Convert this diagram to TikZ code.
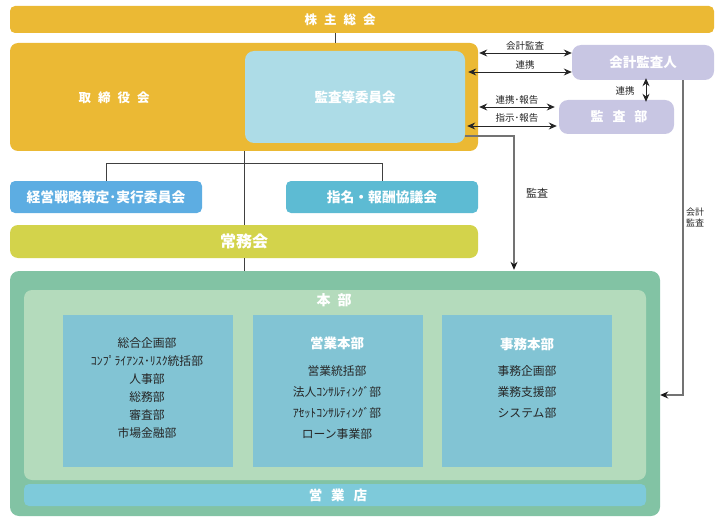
\documentclass[tikz,border=0pt]{standalone}
\usepackage{fontspec}
\setmainfont{Noto Sans CJK JP}
\usetikzlibrary{arrows.meta,calc}
\definecolor{cgold}{HTML}{EBB934}
\definecolor{ckansa}{HTML}{ADDCE7}
\definecolor{clav}{HTML}{C8C6E3}
\definecolor{ckeiei}{HTML}{5DADE2}
\definecolor{cshimei}{HTML}{5DBBD3}
\definecolor{cjomu}{HTML}{D3D34B}
\definecolor{couter}{HTML}{82C3A4}
\definecolor{cinner}{HTML}{B4DBBC}
\definecolor{cdept}{HTML}{82C4D4}
\definecolor{cbranch}{HTML}{7ECADA}
\newcommand{\gapA}{\hspace{7pt}}
\newcommand{\gapB}{\hspace{9pt}}
\begin{document}
\begin{tikzpicture}[x=1pt,y=-1pt,
  box/.style={rounded corners=7pt, draw=none, inner sep=0pt, text=white, font=\bfseries\fontsize{13.5}{14}\selectfont},
  deptbox/.style={draw=none, inner sep=0pt, fill=cdept, minimum width=170, minimum height=152},
  wtitle/.style={inner sep=0pt, text=white, font=\bfseries\fontsize{13.5}{14}\selectfont},
  lbl/.style={font=\fontsize{9.5}{11}\selectfont, text=black!85, inner sep=0pt},
  dtext/.style={font=\fontsize{11.8}{12}\selectfont, text=black!85, inner sep=0pt},
  conn/.style={draw=black!55, line width=1.2pt},
  tree/.style={draw=black!75, line width=0.8pt},
  tip/.style={-{Stealth[length=8pt,width=7pt,color=black!90]}},
  dbl/.style={{Stealth[length=8pt,width=7pt]}-{Stealth[length=8pt,width=7pt]}, line width=0.9pt, draw=black!85},
]
\useasboundingbox (0,0) rectangle (720,524);

% top boxes
\node[box, fill=cgold, minimum width=704, minimum height=27, rounded corners=5pt] (agm) at (362,19.5) {};
\node[inner sep=0pt, text=white, font=\bfseries\fontsize{12.5}{13}\selectfont] (agmlbl) at (340,19.5) {株\gapA 主\gapA 総\gapA 会};
\node[box, fill=cgold, minimum width=468, minimum height=108, rounded corners=8pt] (board) at (244,97) {};
\node[inner sep=0pt, text=white, font=\bfseries\fontsize{12.5}{13}\selectfont] (boardlbl) at (114,98) {取\gapA 締\gapA 役\gapA 会};
\node[box, fill=ckansa, minimum width=220, minimum height=92, rounded corners=9pt] (kansatou) at (355,97) {監査等委員会};
\node[box, fill=clav, minimum width=142, minimum height=35, rounded corners=9pt] (kaikei) at (643,62.5) {会計監査人};
\node[box, fill=clav, minimum width=115, minimum height=34, rounded corners=9pt, font=\bfseries\fontsize{13}{14}\selectfont] (kansabu) at (616.5,117) {};
\node[inner sep=0pt, text=white, font=\bfseries\fontsize{13}{14}\selectfont] (kansabulbl) at (619,117) {監\gapB 査\gapB 部};

% committees
\node[box, fill=ckeiei, minimum width=192, minimum height=32, rounded corners=5pt, font=\bfseries\fontsize{13.8}{14}\selectfont] (keiei) at (106,197) {経営戦略策定･実行委員会};
\node[box, fill=cshimei, minimum width=192, minimum height=32, rounded corners=5pt, font=\bfseries\fontsize{13.8}{14}\selectfont] (shimei) at (382,197) {指名・報酬協議会};
\node[box, fill=cjomu, minimum width=468, minimum height=33, rounded corners=8pt, font=\bfseries\fontsize{16}{17}\selectfont] (jomu) at (244,241.5) {常務会};

% head office
\node[box, fill=couter, minimum width=650, minimum height=245, rounded corners=9pt] (outer) at (335,393.5) {};
\node[box, fill=cinner, minimum width=622, minimum height=190, rounded corners=8pt] (inner) at (335,385) {};
\node[wtitle, font=\bfseries\fontsize{14}{15}\selectfont] (honbu) at (334,300) {本\gapA 部};
\node[deptbox] (d1) at (148,391) {};
\node[deptbox] (d2) at (338,391) {};
\node[deptbox] (d3) at (527,391) {};
\node[box, fill=cbranch, minimum width=622, minimum height=22, rounded corners=5pt] (branch) at (335,495) {};
\node[inner sep=0pt, text=white, font=\bfseries\fontsize{13.5}{14}\selectfont] (branchlbl) at (338,495) {営\gapB 業\gapB 店};

% department texts
\foreach \t [count=\i] in {総合企画部,ｺﾝﾌﾟﾗｲｱﾝｽ･ﾘｽｸ統括部,人事部,総務部,審査部,市場金融部}
  \node[dtext] (da\i) at (147,{342.7+18.1*(\i-1)}) {\t};
\node[wtitle] (d2t) at (337,343.5) {営業本部};
\foreach \t [count=\i] in {営業統括部,法人ｺﾝｻﾙﾃｨﾝｸﾞ部,ｱｾｯﾄｺﾝｻﾙﾃｨﾝｸﾞ部,ローン事業部}
  \node[dtext] (db\i) at (337,{370.7+21.1*(\i-1)}) {\t};
\node[wtitle] (d3t) at (527,344) {事務本部};
\foreach \t [count=\i] in {事務企画部,業務支援部,システム部}
  \node[dtext] (dc\i) at (527,{370.7+21*(\i-1)}) {\t};

% tree connectors
\coordinate (c0) at (335,0);
\draw[tree] (c0 |- agm.south) -- (c0 |- board.north);
\draw[tree] (board.south) -- (jomu.north);
\draw[tree] (jomu.south) -- (jomu.south |- outer.north);
\draw[tree] (keiei.north) -- ++(0,-17) -| (shimei.north);

% double arrows
\coordinate (a1) at (0,53);
\coordinate (a2) at (0,72);
\coordinate (a3) at (0,107);
\coordinate (a4) at (0,126);
\draw[dbl, shorten <=1pt] (board.east |- a1) -- (kaikei.west |- a1);
\draw[dbl, shorten <=3pt] (kansatou.east |- a2) -- (kaikei.west |- a2);
\draw[dbl, shorten <=1pt, shorten >=4pt] (board.east |- a3) -- (kansabu.west |- a3);
\draw[dbl, shorten <=2pt, shorten >=2pt] (kansatou.east |- a4) -- (kansabu.west |- a4);
\coordinate (v0) at (646,0);
\draw[dbl, shorten <=-2pt, shorten >=-2pt] (v0 |- kaikei.south) -- (v0 |- kansabu.north);

\node[lbl] (l1) at (525,46) {会計監査};
\node[lbl] (l2) at (525,65) {連携};
\node[lbl] (l3) at (517,100) {連携･報告};
\node[lbl] (l4) at (517,118) {指示･報告};
\node[lbl] (l5) at (625,91) {連携};

% audit lines
\coordinate (k1) at (514,136);
\draw[conn, tip, shorten >=1pt] (kansatou.east |- k1) -- (k1) -- (k1 |- outer.north);
\node[lbl, font=\fontsize{11}{12}\selectfont] (l6) at (537,193) {監査};
\coordinate (k2) at (683,395);
\draw[conn, tip] (k2 |- kaikei.south) -- (k2) -- (outer.east |- k2);
\node[lbl, align=center, font=\fontsize{9}{11.5}\selectfont] (l7) at (695,217.5) {会計\\監査};
\end{tikzpicture}
\end{document}
